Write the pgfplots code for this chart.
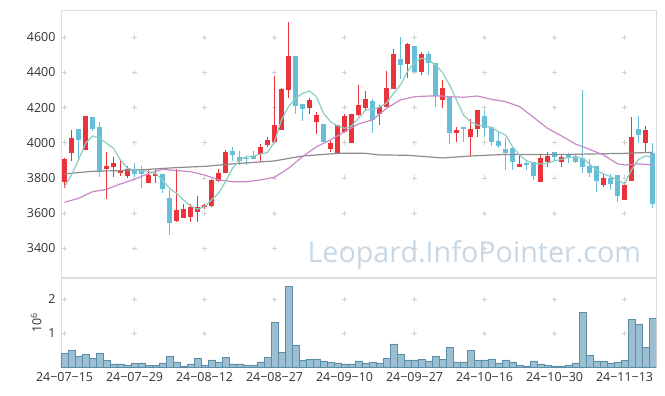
\documentclass[border=0pt]{standalone}
\usepackage{fontspec}
\setmainfont{Open Sans}
\usepackage{pgfplots}
\pgfplotsset{compat=1.18}
\usepackage{pgfplotstable}

\definecolor{cred}{RGB}{234,51,58}
\definecolor{cblue}{RGB}{104,190,216}
\definecolor{mafive}{RGB}{140,205,192}
\definecolor{matwenty}{RGB}{200,138,200}
\definecolor{masixty}{RGB}{140,140,140}
\definecolor{volf}{RGB}{155,191,208}
\definecolor{vole}{RGB}{90,142,168}
\definecolor{framec}{RGB}{221,221,221}
\definecolor{gridc}{RGB}{210,210,210}
\definecolor{wm}{RGB}{198,216,230}
\definecolor{lab}{RGB}{51,51,51}

% i Open High Low Close Volume(10^6)
\pgfplotstableread{
i O H L C V
0 3779 3914 3741 3906 0.41
1 3944 4071 3898 4026 0.48
3 3959 4153 3959 4153 0.38
6 3853 3948 3682 3868 0.19
7 3864 3917 3808 3885 0.09
8 3828 3902 3813 3840 0.09
9 3811 3868 3798 3851 0.06
12 3773 3845 3773 3817 0.04
13 3813 3849 3773 3825 0.04
16 3557 3849 3548 3616 0.15
17 3572 3652 3572 3622 0.03
18 3580 3652 3552 3633 0.09
19 3608 3700 3548 3637 0.26
20 3637 3650 3624 3646 0.06
21 3643 3796 3637 3789 0.21
22 3783 3849 3779 3826 0.15
23 3826 3957 3826 3946 0.29
28 3938 3991 3889 3974 0.15
29 3989 4035 3978 4014 0.29
30 4006 4380 3999 4101 1.32
31 4075 4313 4075 4306 0.44
32 4300 4689 4257 4494 2.38
35 4196 4253 4164 4243 0.235
36 4120 4173 4048 4156 0.235
38 3965 4016 3950 3997 0.15
39 3938 4101 3938 4101 0.12
40 4060 4162 4054 4153 0.09
41 3997 4162 3997 4162 0.09
42 4158 4327 4154 4213 0.18
43 4200 4295 4183 4249 0.12
45 4164 4215 4101 4206 0.12
46 4202 4409 4202 4310 0.26
47 4306 4532 4306 4505 0.68
49 4446 4566 4367 4560 0.21
51 4405 4515 4384 4505 0.235
54 4244 4357 4196 4310 0.235
56 4058 4092 4003 4073 0.15
58 4035 4134 3927 4079 0.50
59 4077 4187 4035 4187 0.21
65 3864 3936 3864 3880 0.06
68 3779 3936 3779 3912 0.09
69 3893 3950 3864 3927 0.06
71 3893 3936 3864 3921 0.03
77 3760 3823 3747 3798 0.18
80 3675 3779 3675 3760 0.21
81 3785 4145 3785 4035 1.41
83 3997 4096 3950 4073 0.57
}\up

\pgfplotstableread{
i O H L C V
2 4077 4077 3902 4016 0.33
4 4147 4147 4069 4080 0.245
5 4090 4117 3804 3832 0.41
10 3851 3883 3808 3823 0.12
11 3847 3868 3741 3825 0.12
14 3823 3823 3717 3737 0.12
15 3684 3732 3476 3546 0.32
24 3955 3978 3898 3931 0.09
25 3918 3955 3874 3898 0.09
26 3912 3918 3874 3906 0.06
27 3923 3955 3909 3909 0.06
33 4494 4494 4162 4211 0.65
34 4219 4219 4124 4191 0.21
37 4105 4105 4007 4007 0.18
44 4238 4247 4058 4130 0.15
48 4477 4600 4363 4443 0.38
50 4551 4551 4405 4405 0.21
52 4505 4524 4384 4452 0.18
53 4454 4454 4202 4266 0.32
55 4268 4268 3993 4058 0.59
57 4090 4090 4003 4077 0.15
60 4153 4187 4035 4086 0.21
61 4090 4090 3984 4007 0.235
62 4010 4063 3969 3982 0.12
63 3965 4026 3845 3944 0.21
64 3969 3969 3845 3893 0.15
66 3883 3898 3845 3872 0.03
67 3891 3891 3789 3813 0.18
70 3948 3950 3897 3921 0.03
72 3934 3940 3883 3912 0.06
73 3927 3936 3883 3893 0.12
74 3916 4300 3826 3864 1.62
75 3870 3906 3808 3830 0.35
76 3868 3868 3722 3785 0.18
78 3798 3823 3734 3766 0.12
79 3817 3817 3665 3700 0.15
82 4079 4153 3997 4045 1.27
84 3940 3997 3627 3650 1.44
}\dn

\begin{document}
\begin{tikzpicture}
\useasboundingbox (0,0) rectangle (665bp,396bp);
\pgfplotsset{
  every axis/.append style={
    scale only axis, width=595bp,
    xmin=-0.5, xmax=84.5,
    axis line style={framec, line width=0.8bp},
    major tick length=0pt,
    tick label style={font=\fontsize{12.5}{14}\selectfont, text=lab},
    /pgf/number format/assume math mode=true,
    /pgf/number format/1000 sep={},
    xtick={0,10,...,80},
    xmajorgrids, ymajorgrids,
    y grid style={gridc, line width=0.8bp, dash pattern=on 5bp off 65bp, dash phase=69bp},
    clip=true,
  },
}
\begin{axis}[
  at={(61bp,386bp)}, anchor=north west,
  height=267bp,
  ymin=3237, ymax=4755,
  ytick={3400,3600,...,4600},
  xticklabels={},
  yticklabel style={xshift=-2bp},
  x grid style={gridc, line width=0.8bp, dash pattern=on 5bp off 30.18bp, dash phase=9.0bp},
]
% wicks
\addplot[forget plot, draw=none, mark=none, error bars/.cd, y dir=minus, y explicit, error mark=none,
  error bar style={draw=cred, line width=1.1bp, solid}]
  table[x=i, y=H, y error minus expr=\thisrow{H}-\thisrow{L}] {\up};
\addplot[forget plot, draw=none, mark=none, error bars/.cd, y dir=minus, y explicit, error mark=none,
  error bar style={draw=cblue, line width=1.1bp, solid}]
  table[x=i, y=H, y error minus expr=\thisrow{H}-\thisrow{L}] {\dn};
% bodies
\addplot[forget plot, draw=none, mark=none, error bars/.cd, y dir=minus, y explicit, error mark=none,
  error bar style={draw=cred, line width=5bp, solid}]
  table[x=i, y=C, y error minus expr=\thisrow{C}-\thisrow{O}] {\up};
\addplot[forget plot, draw=none, mark=none, error bars/.cd, y dir=minus, y explicit, error mark=none,
  error bar style={draw=cblue, line width=5bp, solid}]
  table[x=i, y=O, y error minus expr=\thisrow{O}-\thisrow{C}] {\dn};
% moving averages
\addplot[masixty, line width=1.2bp, mark=none] coordinates {
(0,3823) (4,3838) (8,3842) (12,3849) (16,3859) (20,3866) (24,3880) (30,3897) (34,3925)
(39,3940) (43,3940) (45,3931) (49,3929) (54,3914) (58,3925) (63,3934) (72,3934) (80,3940) (84,3946)};
\addplot[matwenty, line width=1.2bp, mark=none] coordinates {
(0,3662) (2,3684) (4,3722) (6,3735) (8,3766) (10,3792) (12,3826) (14,3849) (16,3842) (18,3836)
(20,3817) (22,3789) (24,3779) (26,3779) (28,3789) (30,3804) (32,3855) (34,3921) (36,3978)
(38,4016) (40,4063) (42,4107) (44,4130) (46,4196) (48,4244) (50,4262) (52,4266) (54,4266)
(55,4262) (57,4259) (59,4266) (61,4247) (63,4234) (65,4206) (67,4145) (69,4082) (71,4039)
(73,3993) (75,3963) (77,3931) (79,3880) (80,3874) (82,3880) (84,3874)};
\addplot[mafive, line width=1.2bp, mark=none] coordinates {
(0,3751) (1,3817) (2,3902) (3,3997) (4,4039) (5,4026) (6,3997) (7,3969) (8,3902) (9,3855)
(10,3845) (11,3842) (12,3836) (13,3826) (14,3789) (15,3741) (16,3713) (17,3675) (18,3641)
(19,3622) (20,3637) (21,3675) (22,3713) (23,3779) (24,3855) (25,3902) (26,3921) (27,3925)
(28,3936) (29,3944) (30,4007) (31,4130) (32,4206) (33,4253) (34,4281) (35,4295) (36,4262)
(37,4168) (38,4120) (39,4096) (40,4082) (41,4096) (42,4139) (43,4187) (44,4190) (45,4202)
(46,4225) (47,4281) (48,4329) (49,4405) (50,4456) (51,4481) (52,4471) (53,4443) (54,4400)
(55,4329) (56,4244) (57,4158) (58,4120) (59,4101) (60,4096) (61,4088) (62,4063) (63,4045)
(64,3978) (65,3931) (66,3898) (67,3883) (68,3880) (69,3883) (70,3898) (71,3906) (72,3917)
(73,3917) (74,3912) (75,3880) (76,3845) (77,3823) (78,3808) (79,3789) (80,3766) (81,3845)
(82,3906) (83,3925) (84,3917)};
\node[anchor=base west, text=wm, font=\fontsize{28.8}{32}\selectfont, inner sep=0pt]
  at (rel axis cs:0.414,0.056) {Leopard.InfoPointer.com};
\end{axis}

\begin{axis}[
  at={(61bp,118bp)}, anchor=north west,
  height=89bp,
  ymin=0, ymax=2.626,
  ytick={1,2},
  yticklabel style={xshift=-2bp},
  xticklabel style={yshift=-2bp},
  xticklabels={24−07−15,24−07−29,24−08−12,24−08−27,24−09−10,24−09−27,24−10−16,24−10−30,24−11−13},
  ylabel={10\textsuperscript{6}},
  ylabel style={font=\fontsize{12.5}{14}\selectfont, text=lab, xshift=0bp},
  x grid style={gridc, line width=0.8bp, dash pattern=on 5bp off 28.9bp, dash phase=2.5bp},
]
\addplot[ybar, bar width=7bp, bar shift=0pt, fill=volf, draw=vole, line width=0.6bp]
  table[x=i, y=V] {\up};
\addplot[ybar, bar width=7bp, bar shift=0pt, fill=volf, draw=vole, line width=0.6bp]
  table[x=i, y=V] {\dn};
\end{axis}
\end{tikzpicture}
\end{document}
